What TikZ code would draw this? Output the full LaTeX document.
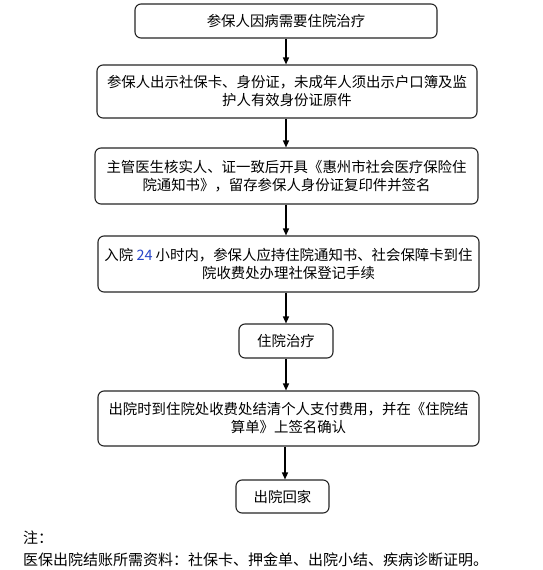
\documentclass[tikz,border=0pt]{standalone}
\usepackage{fontspec}
\setmainfont{Noto Sans CJK SC}
\usetikzlibrary{arrows.meta}
\definecolor{numblue}{RGB}{40,70,200}
\begin{document}
\begin{tikzpicture}[x=1pt,y=-1pt,
  stepbox/.style={draw=black!85,line width=1.1pt,rounded corners=6pt,align=center,inner sep=0pt,
    font=\fontsize{14.4}{18}\selectfont},
  arr/.style={-{Triangle[length=7pt,width=6pt]},line width=1.4pt},
  note/.style={anchor=west,inner sep=0pt,font=\fontsize{15}{18}\selectfont}]
\useasboundingbox[fill=white] (0,0) rectangle (543,570);
\node[stepbox,minimum width=302,minimum height=34] (b1) at (286,21) {参保人因病需要住院治疗};
\node[stepbox,minimum width=380,minimum height=53] (b2) at (287,91.5)
  {\fontsize{14.4}{22}\selectfont 参保人出示社保卡、身份证，未成年人须出示户口簿及监\\护人有效身份证原件};
\node[stepbox,minimum width=383,minimum height=56] (b3) at (286.5,176)
  {主管医生核实人、证一致后开具《惠州市社会医疗保险住\\院通知书》，留存参保人身份证复印件并签名};
\node[stepbox,minimum width=381,minimum height=56] (b4) at (288.5,264)
  {入院 \textcolor{numblue}{24} 小时内，参保人应持住院通知书、社会保障卡到住\\院收费处办理社保登记手续};
\node[stepbox,minimum width=94,minimum height=34] (b5) at (286,341) {住院治疗};
\node[stepbox,minimum width=93,minimum height=33] (b7) at (282.5,496.5) {出院回家};
\node[stepbox,minimum width=381,minimum height=55] (b6) at (288.5,418.5)
  {出院时到住院处收费处结清个人支付费用，并在《住院结\\算单》上签名确认};
\coordinate (c7) at (285,0);
\draw[arr] (b1.south) -- (b1.south |- b2.north);
\draw[arr] (b1.south |- b2.south) -- (b1.south |- b3.north);
\draw[arr] (b1.south |- b3.south) -- (b1.south |- b4.north);
\draw[arr] (b1.south |- b4.south) -- (b5.north);
\draw[arr] (b5.south) -- (b5.south |- b6.north);
\draw[arr] (c7 |- b6.south) -- (c7 |- b7.north);
\node[note] (n1) at (23,538) {注：};
\node[note] (n2) at (23,560) {医保出院结账所需资料：社保卡、押金单、出院小结、疾病诊断证明。};
\end{tikzpicture}
\end{document}
